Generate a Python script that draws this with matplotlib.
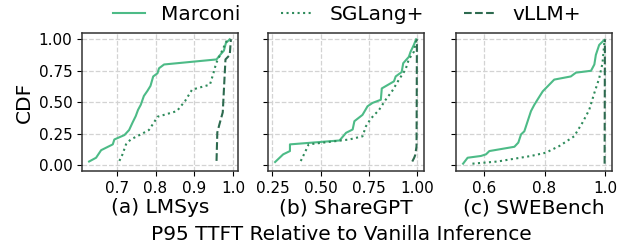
import numpy as np
import matplotlib
matplotlib.use("Agg")
import matplotlib.pyplot as plt

# CDF curves: (ttft ratio, cumulative fraction)
lmsys_marconi_x = [0.629, 0.647, 0.660, 0.690, 0.694, 0.720, 0.732, 0.741, 0.749, 0.755,
                   0.762, 0.770, 0.779, 0.787, 0.794, 0.805, 0.809, 0.822, 0.957, 0.966,
                   0.976, 0.981, 0.991]
lmsys_marconi_y = [0.03, 0.06, 0.12, 0.166, 0.205, 0.24, 0.28, 0.34, 0.39, 0.44,
                   0.48, 0.55, 0.59, 0.63, 0.705, 0.73, 0.77, 0.80, 0.84, 0.875,
                   0.91, 0.97, 1.0]
lmsys_sglang_x = [0.707, 0.715, 0.724, 0.736, 0.762, 0.783, 0.796, 0.805, 0.855, 0.876,
                  0.894, 0.940, 0.949, 0.956, 0.970, 0.985]
lmsys_sglang_y = [0.035, 0.087, 0.166, 0.205, 0.245, 0.28, 0.34, 0.385, 0.43, 0.51,
                  0.60, 0.64, 0.73, 0.81, 0.90, 1.0]
lmsys_vllm_x = [0.957, 0.959, 0.964, 0.973, 0.976, 0.980, 0.991, 0.994]
lmsys_vllm_y = [0.035, 0.26, 0.32, 0.42, 0.60, 0.84, 0.875, 1.0]

sharegpt_marconi_x = [0.264, 0.306, 0.341, 0.341, 0.598, 0.632, 0.666, 0.675, 0.717, 0.743,
                      0.769, 0.812, 0.817, 0.880, 0.889, 0.920, 0.928, 0.957, 0.966, 0.983,
                      0.995]
sharegpt_marconi_y = [0.026, 0.087, 0.113, 0.166, 0.197, 0.258, 0.284, 0.35, 0.40, 0.468,
                      0.495, 0.52, 0.61, 0.666, 0.705, 0.74, 0.81, 0.86, 0.90, 0.955,
                      1.0]
sharegpt_sglang_x = [0.397, 0.418, 0.438, 0.649, 0.717, 0.735, 0.760, 0.803, 0.837, 0.871,
                     0.906, 0.940, 0.957, 0.983, 0.990, 0.996]
sharegpt_sglang_y = [0.034, 0.10, 0.166, 0.205, 0.23, 0.31, 0.37, 0.44, 0.52, 0.59,
                     0.68, 0.76, 0.84, 0.90, 0.955, 0.995]
sharegpt_vllm_x = [0.975, 0.985, 0.990, 0.997, 0.998, 0.999]
sharegpt_vllm_y = [0.03, 0.06, 0.08, 0.15, 0.50, 1.0]

swebench_marconi_x = [0.530, 0.545, 0.589, 0.606, 0.617, 0.700, 0.713, 0.722, 0.733, 0.744,
                      0.755, 0.766, 0.779, 0.794, 0.810, 0.832, 0.887, 0.904, 0.954, 0.965,
                      0.970, 0.981, 0.998]
swebench_marconi_y = [0.013, 0.06, 0.074, 0.087, 0.113, 0.147, 0.18, 0.245, 0.27, 0.35,
                      0.43, 0.48, 0.53, 0.587, 0.626, 0.68, 0.705, 0.735, 0.75, 0.80,
                      0.876, 0.955, 0.995]
swebench_sglang_x = [0.561, 0.644, 0.755, 0.804, 0.849, 0.898, 0.926, 0.948, 0.965, 0.981,
                     0.992, 0.998]
swebench_sglang_y = [0.013, 0.03, 0.074, 0.10, 0.153, 0.23, 0.34, 0.44, 0.574, 0.69,
                     0.81, 0.97]
swebench_vllm_x = [0.999, 1.0]
swebench_vllm_y = [0.013, 1.0]

systems = ["Marconi", "SGLang+", "vLLM+"]
panel_titles = ["(a) LMSys", "(b) ShareGPT", "(c) SWEBench"]
x_ticks = [[0.7, 0.8, 0.9, 1.0], [0.25, 0.50, 0.75, 1.00], [0.6, 0.8, 1.0]]
x_ticklabels = [["0.7", "0.8", "0.9", "1.0"], ["0.25", "0.50", "0.75", "1.00"],
                ["0.6", "0.8", "1.0"]]
y_ticks = [0.0, 0.25, 0.5, 0.75, 1.0]

panels = [
    [(lmsys_marconi_x, lmsys_marconi_y), (lmsys_sglang_x, lmsys_sglang_y),
     (lmsys_vllm_x, lmsys_vllm_y)],
    [(sharegpt_marconi_x, sharegpt_marconi_y), (sharegpt_sglang_x, sharegpt_sglang_y),
     (sharegpt_vllm_x, sharegpt_vllm_y)],
    [(swebench_marconi_x, swebench_marconi_y), (swebench_sglang_x, swebench_sglang_y),
     (swebench_vllm_x, swebench_vllm_y)],
]

colors = ["#4dbb87", "#2e8b5b", "#2d6a4f"]
styles = ["-", ":", "--"]

fig = plt.figure(figsize=(6.24, 2.46), dpi=100)
lefts = [82 / 624, 268 / 624, 456 / 624]
axes = [fig.add_axes([l, 0.305, 156 / 624, 0.561]) for l in lefts]

for i, ax in enumerate(axes):
    for (xs, ys), name, c, ls in zip(panels[i], systems, colors, styles):
        ax.plot(xs, ys, color=c, linestyle=ls, linewidth=1.5, label=name)
    ax.set_xticks(x_ticks[i])
    ax.set_xticklabels(x_ticklabels[i], fontsize=11)
    ax.set_yticks(y_ticks)
    ax.set_ylim(-0.045, 1.05)
    if i == 0:
        ax.set_yticklabels([f"{v:.2f}" for v in y_ticks], fontsize=11)
        ax.set_ylabel("CDF", fontsize=14.5)
        ax.yaxis.set_label_coords(-0.31, 0.5)
    else:
        ax.set_yticklabels([])
    ax.set_xlabel(panel_titles[i], fontsize=14.5, labelpad=2)
    ax.grid(True, linestyle="--", color="#d3d3d3", linewidth=0.9)
    ax.set_axisbelow(True)
    for s in ax.spines.values():
        s.set_linewidth(1.1)
        s.set_color("#333333")

handles, labels = axes[0].get_legend_handles_labels()
fig.legend(handles, labels, loc="center", bbox_to_anchor=(347 / 624, 1 - 15 / 246),
           ncol=3, frameon=False, fontsize=14.5, handlelength=1.6,
           columnspacing=2.0, handletextpad=0.8)
fig.text(341 / 624, 11 / 246, "P95 TTFT Relative to Vanilla Inference",
         ha="center", va="center", fontsize=14.5)

fig.savefig("out.png", dpi=100)
